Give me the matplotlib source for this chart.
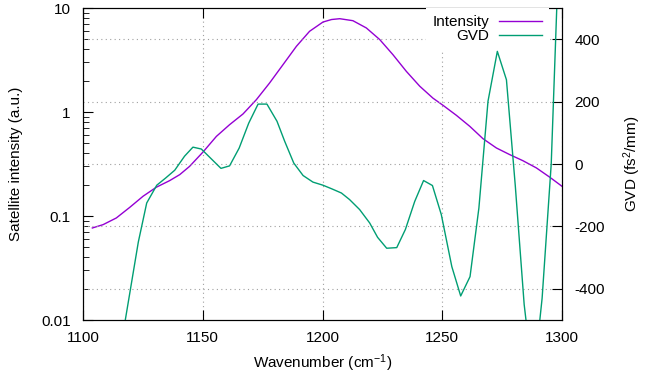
import numpy as np
import matplotlib
matplotlib.use("Agg")
from matplotlib import pyplot as plt

plt.rcParams['font.family'] = ['Liberation Sans', 'DejaVu Sans']
plt.rcParams['font.size'] = 11
plt.rcParams['axes.unicode_minus'] = False
plt.rcParams['mathtext.fontset'] = 'custom'
plt.rcParams['mathtext.rm'] = 'Liberation Sans'
plt.rcParams['mathtext.default'] = 'regular'

# satellite intensity (a.u.)
wn_int = [1103.9, 1108.4, 1113.9, 1119.5, 1125.1, 1130.6, 1136.2, 1140.4, 1144.5,
          1150.1, 1155.7, 1161.2, 1166.8, 1172.4, 1177.9, 1183.5, 1189.1, 1194.6,
          1200.2, 1203.8, 1207.2, 1212.7, 1218.3, 1223.9, 1229.4, 1235.0, 1240.6,
          1246.1, 1250.3, 1255.9, 1261.5, 1267.0, 1272.6, 1278.2, 1283.7, 1289.3,
          1294.9, 1300.0]
intensity = [0.0767, 0.0826, 0.0957, 0.121, 0.155, 0.189, 0.219, 0.250, 0.30,
             0.412, 0.583, 0.755, 0.957, 1.315, 1.90, 2.85, 4.28, 5.97,
             7.33, 7.75, 7.89, 7.55, 6.43, 4.97, 3.56, 2.46, 1.77,
             1.36, 1.16, 0.929, 0.728, 0.554, 0.451, 0.389, 0.340, 0.290,
             0.236, 0.193]

# group velocity dispersion (fs^2/mm)
wn_gvd = [1112.0, 1115.7, 1123.1, 1126.6, 1130.8, 1134.5, 1138.3, 1142.4, 1145.9,
          1149.4, 1153.5, 1157.6, 1161.2, 1165.2, 1169.2, 1173.1, 1176.8, 1181.0,
          1184.2, 1188.0, 1191.9, 1196.0, 1200.2, 1204.0, 1207.9, 1211.3, 1215.5,
          1219.7, 1223.0, 1226.8, 1231.0, 1234.6, 1238.5, 1242.2, 1245.9, 1249.6,
          1254.0, 1257.7, 1261.6, 1265.3, 1269.1, 1273.0, 1276.8, 1280.5, 1284.2,
          1288.0, 1291.7, 1295.5, 1299.2]
gvd = [-900, -590, -250, -125, -68, -45, -20, 25, 54,
       48, 17, -14, -6, 51, 131, 192, 192, 137,
       73, 3, -37, -58, -68, -80, -93, -114, -146,
       -189, -235, -270, -268, -210, -120, -53, -69, -162,
       -329, -423, -361, -141, 201, 361, 270, -70, -450,
       -700, -430, 0, 800]

fig = plt.figure(figsize=(6.47, 3.83), dpi=100)
ax = fig.add_axes([83/647, 63/383, 479/647, 312/383])
ax2 = ax.twinx()

l1, = ax.plot(wn_int, intensity, color='#9400D3', lw=1.0, label='Intensity')
l2, = ax2.plot(wn_gvd, gvd, color='#009E73', lw=1.0, label='GVD')

ax.set_xlim(1100, 1300)
ax.set_yscale('log')
ax.set_ylim(0.01, 10)
ax.set_yticks([0.01, 0.1, 1, 10])
ax.set_yticklabels(['0.01', '0.1', '1', '10'])
ax.set_xticks([1100, 1150, 1200, 1250, 1300])
ax2.set_ylim(-500, 500)
ax2.set_yticks([-400, -200, 0, 200, 400])

grid_kw = dict(color='#a0a0a0', lw=0.8, linestyle=(0, (1, 3)))
ax.grid(axis='x', **grid_kw)
ax2.grid(axis='y', **grid_kw)

ax.tick_params(axis='x', which='both', direction='in', top=True, length=7, pad=8)
ax.tick_params(axis='y', which='major', direction='in', right=False, length=7, pad=9)
ax.tick_params(axis='y', which='minor', direction='in', right=False, length=4)
ax2.tick_params(axis='y', direction='in', length=7, pad=9)
ax.xaxis.set_minor_locator(plt.NullLocator())
ax2.yaxis.set_minor_locator(plt.NullLocator())

ax.set_xlabel('Wavenumber (cm$^{-1}$)', labelpad=5)
ax.set_ylabel('Satellite intensity (a.u.)', labelpad=13)
ax2.set_ylabel('GVD (fs$^2$/mm)', labelpad=12)

leg = ax2.legend(handles=[l1, l2], loc='upper right', bbox_to_anchor=(0.973, 1.0),
                 borderaxespad=0, markerfirst=False, handlelength=2.8,
                 handletextpad=0.65, labelspacing=0.0, borderpad=0.45,
                 fancybox=False, framealpha=1, edgecolor='none', facecolor='white')

plt.savefig('out.png', dpi=100)
